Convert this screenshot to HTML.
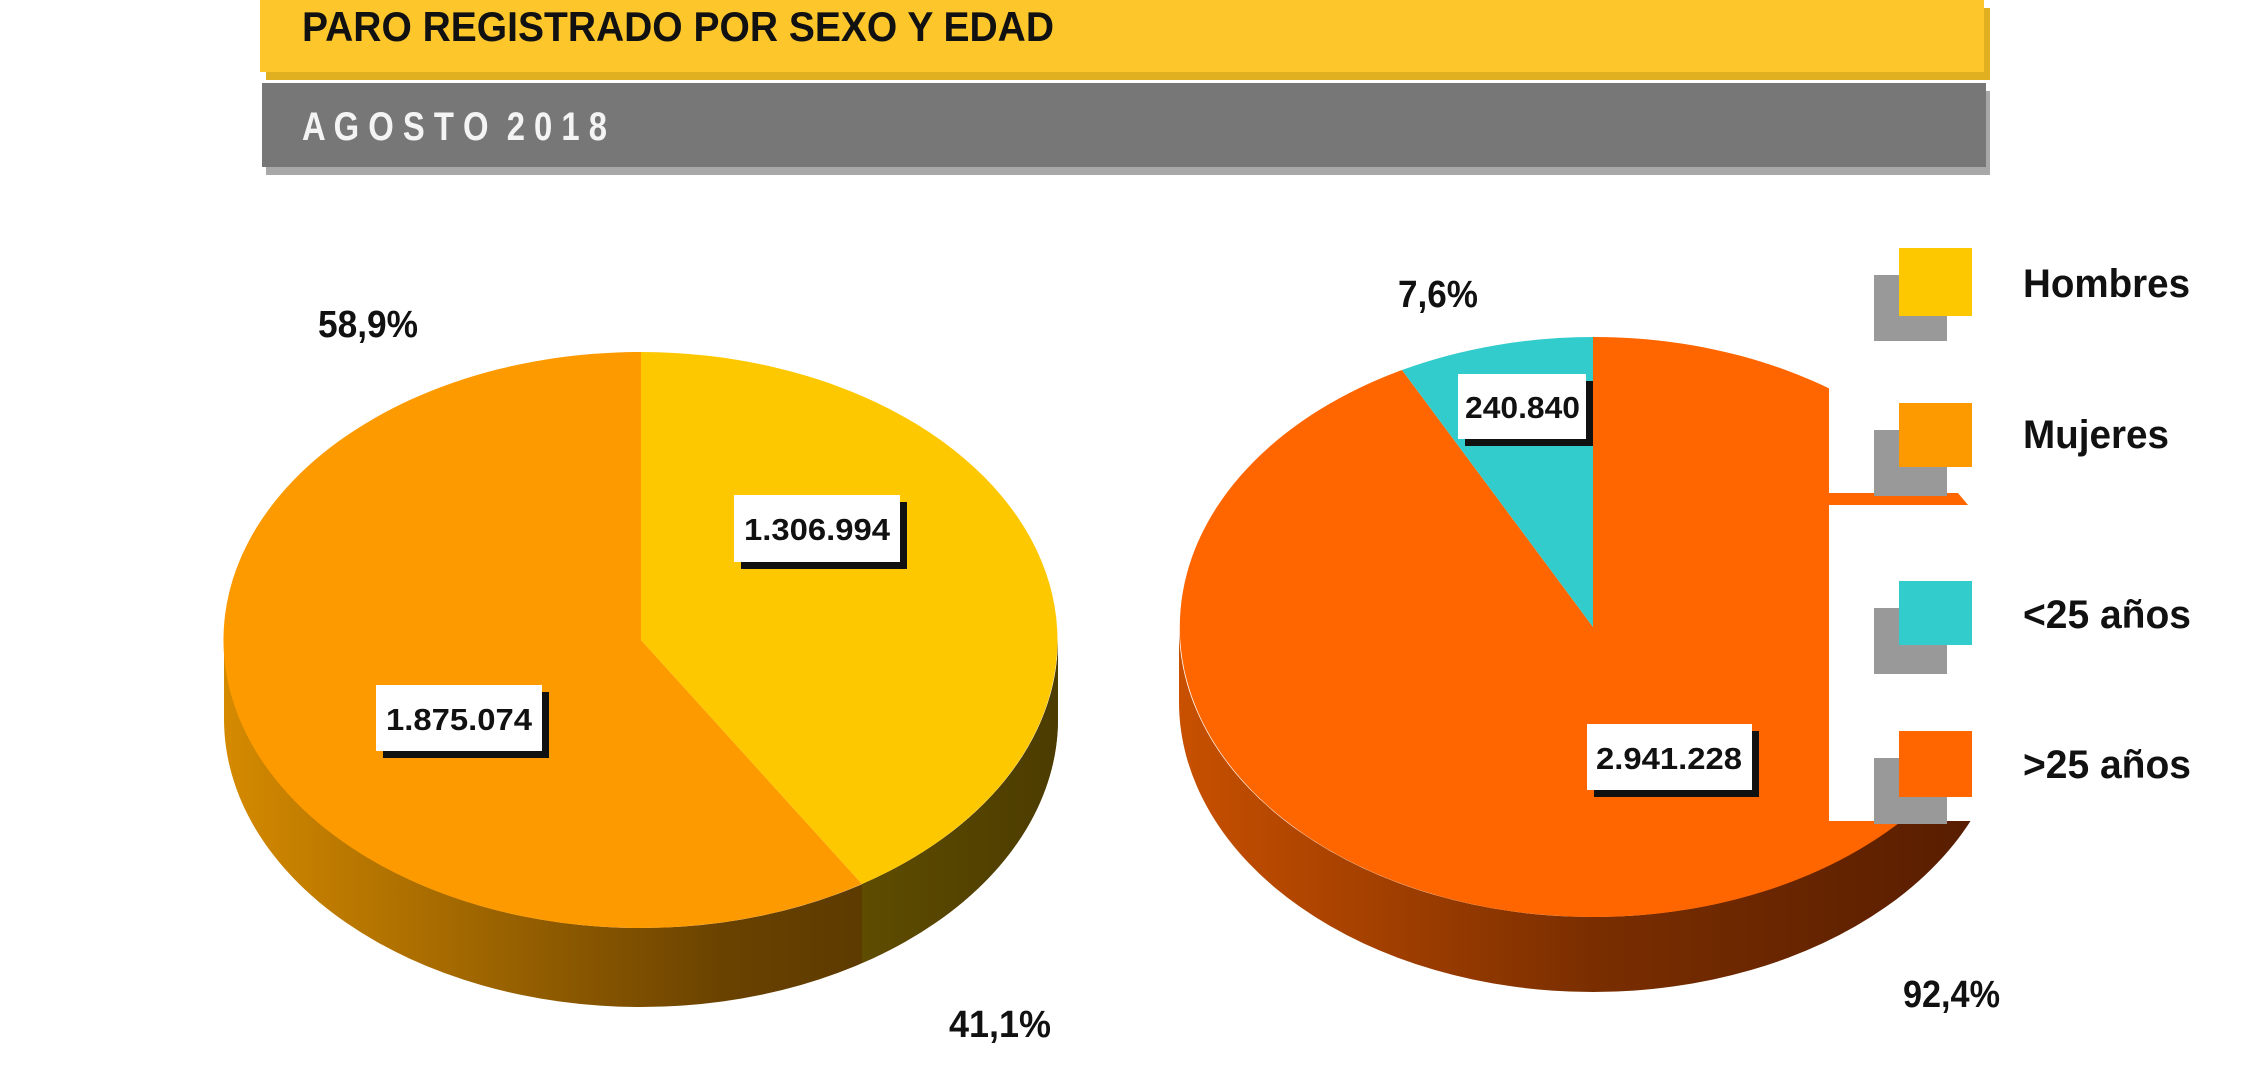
<!DOCTYPE html>
<html><head><meta charset="utf-8"><style>
html,body{margin:0;padding:0;background:#fff;width:2249px;height:1080px;overflow:hidden}
svg{display:block}
text{font-family:"Liberation Sans Narrow","Liberation Sans",sans-serif;font-weight:bold}
</style></head><body>
<svg width="2249" height="1080" viewBox="0 0 2249 1080" xmlns="http://www.w3.org/2000/svg">
<defs>
<linearGradient id="sideL" x1="0" x2="1" y1="0" y2="0">
<stop offset="0" stop-color="#d58a00"/><stop offset="0.6" stop-color="#6a4200"/><stop offset="1" stop-color="#4a3000"/></linearGradient>
<linearGradient id="sideY" x1="0" x2="1" y1="0" y2="0">
<stop offset="0" stop-color="#5e4c00"/><stop offset="1" stop-color="#4c3c00"/></linearGradient>
<linearGradient id="sideR" x1="0" x2="1" y1="0" y2="0">
<stop offset="0" stop-color="#c85000"/><stop offset="0.5" stop-color="#7a2e00"/><stop offset="1" stop-color="#551c00"/></linearGradient>
</defs>
<!-- header -->
<rect x="266" y="8" width="1724" height="72" fill="#e0b020"/>
<rect x="260" y="0" width="1724" height="72" fill="#fdc72c"/>
<text x="302" y="41" font-size="42" fill="#111" textLength="752" lengthAdjust="spacingAndGlyphs">PARO REGISTRADO POR SEXO Y EDAD</text>
<rect x="266" y="91" width="1724" height="84" fill="#a8a8a8"/>
<rect x="262" y="83" width="1724" height="84" fill="#777"/>
<text x="302" y="140" font-size="40" fill="#f4f4f4" textLength="305" lengthAdjust="spacingAndGlyphs">A G O S T O&#160;&#160;2 0 1 8</text>

<!-- left pie -->
<g>
<path d="M224,640 A417,288 0 0 0 1058,640 L1058,719 A417,288 0 0 1 224,719 Z" fill="url(#sideL)"/>
<path d="M862,884 L862,963 A417,288 0 0 0 1058,719 L1058,640 A417,288 0 0 1 862,884Z" fill="url(#sideY)"/>
<path d="M641,640 L641,352 A417,288 0 1 0 862,884 Z" fill="#fd9a00"/>
<path d="M641,640 L641,352 A417,288 0 0 1 862,884 Z" fill="#fdc800"/>
</g>
<!-- right pie -->
<g>
<path d="M1179,627 A414,290 0 0 0 2007,627 L2007,702 A414,290 0 0 1 1179,702 Z" fill="url(#sideR)"/>
<path d="M1593,627 L1593,337 A414,290 0 1 1 1402,370 Z" fill="#ff6600"/>
<path d="M1593,627 L1593,337 A414,290 0 0 0 1402,370 Z" fill="#33cccc"/>
</g>
<!-- legend white box clipping pie -->
<rect x="1829" y="200" width="420" height="621" fill="#fff"/>
<polygon points="1829,493 1958,493 1968,505 1829,505" fill="#ff6600"/>

<!-- value labels -->
<g font-size="31">
<rect x="741" y="502" width="166" height="67" fill="#111"/><rect x="734" y="495" width="166" height="67" fill="#fff"/>
<text x="744" y="540" fill="#111" textLength="146" lengthAdjust="spacingAndGlyphs">1.306.994</text>
<rect x="383" y="692" width="166" height="66" fill="#111"/><rect x="376" y="685" width="166" height="66" fill="#fff"/>
<text x="386" y="730" fill="#111" textLength="146" lengthAdjust="spacingAndGlyphs">1.875.074</text>
<rect x="1465" y="381" width="128" height="65" fill="#111"/><rect x="1458" y="374" width="128" height="65" fill="#fff"/>
<text x="1465" y="418" fill="#111" textLength="115" lengthAdjust="spacingAndGlyphs">240.840</text>
<rect x="1594" y="731" width="165" height="66" fill="#111"/><rect x="1587" y="724" width="165" height="66" fill="#fff"/>
<text x="1596" y="769" fill="#111" textLength="146" lengthAdjust="spacingAndGlyphs">2.941.228</text>
</g>
<!-- percentages -->
<g font-size="38" fill="#111">
<text x="318" y="337" textLength="100" lengthAdjust="spacingAndGlyphs">58,9%</text>
<text x="949" y="1037" textLength="102" lengthAdjust="spacingAndGlyphs">41,1%</text>
<text x="1398" y="307" textLength="80" lengthAdjust="spacingAndGlyphs">7,6%</text>
<text x="1903" y="1007" textLength="97" lengthAdjust="spacingAndGlyphs">92,4%</text>
</g>
<!-- legend -->
<rect x="1874" y="275" width="73" height="66" fill="#999"/><rect x="1899" y="248" width="73" height="68" fill="#fdc800"/>
<rect x="1874" y="430" width="73" height="66" fill="#999"/><rect x="1899" y="403" width="73" height="64" fill="#fd9a00"/>
<rect x="1874" y="608" width="73" height="66" fill="#999"/><rect x="1899" y="581" width="73" height="64" fill="#33cccc"/>
<rect x="1874" y="758" width="73" height="66" fill="#999"/><rect x="1899" y="731" width="73" height="66" fill="#ff6600"/>
<g font-size="40" fill="#111">
<text x="2023" y="297" textLength="167" lengthAdjust="spacingAndGlyphs">Hombres</text>
<text x="2023" y="448" textLength="146" lengthAdjust="spacingAndGlyphs">Mujeres</text>
<text x="2023" y="628" textLength="168" lengthAdjust="spacingAndGlyphs">&lt;25 años</text>
<text x="2023" y="778" textLength="168" lengthAdjust="spacingAndGlyphs">&gt;25 años</text>
</g>
</svg>
</body></html>
